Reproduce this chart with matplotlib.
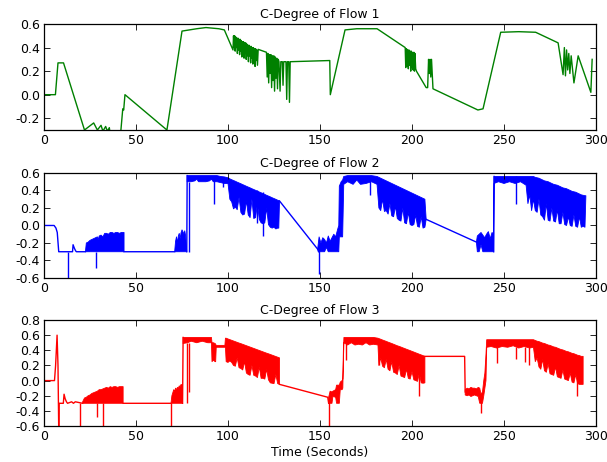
import numpy as np
import matplotlib
matplotlib.use('Agg')
import matplotlib.pyplot as plt

nan = np.nan

# ---- flow 1 : single trace ----
t1 = [0, 6.2, 7.6, 10.6, 22, 27, 29, 31, 32, 33.5, 34.5, 35.5, 36.5, 38, 41.8, 42.8, 43.3, 44,
      66.8, 75, 83, 88, 95, 98, 102.7,
      103.0, 103.3, 103.6, 103.9, 104.2, 104.5, 104.8, 105.1, 105.4, 105.7, 106.0, 106.3, 106.6,
      106.9, 107.2, 107.5, 107.8, 108.1, 108.4, 108.7, 109.0, 109.3, 109.6, 109.9, 110.2, 110.5,
      110.8, 111.1, 111.4, 111.7, 112.0, 112.3, 112.6, 112.9, 113.2, 113.5, 113.8, 114.1, 114.4,
      114.7, 115.0, 115.3, 115.6, 116.0, 116.4, 120.9,
      121.3, 121.7, 122.1, 122.5, 122.9, 123.3, 123.7, 124.1, 124.5, 124.9, 125.3, 125.7, 126.1,
      126.5, 126.9, 127.3, 127.7, 128.3, 128.7, 129.5, 129.9, 130.3, 131.5, 131.9, 132.3, 133.0,
      133.4, 133.8, 155.3, 155.6, 163.6, 170, 181, 196.3,
      196.6, 197.0, 197.3, 197.6, 198.0, 198.3, 198.6, 199.0, 199.3, 199.6, 200.0, 200.3, 200.6,
      201.0, 201.3, 201.6, 202.0, 202.4, 207.7, 208.5, 209.0, 209.4, 209.8, 210.2, 210.6, 211.4,
      235.8, 238.6, 248.2, 258, 267.2, 279.4, 282.1, 282.8, 283.4, 284.0, 284.6, 285.2, 285.8,
      286.5, 288.0, 290.3, 297.2, 297.9]
c1 = [0, 0, 0.27, 0.27, -0.3, -0.24, -0.3, -0.26, -0.31, -0.27, -0.31, -0.28, -0.4, -0.45, -0.3, -0.12, -0.13, 0.0,
      -0.3, 0.54, 0.56, 0.57, 0.56, 0.55, 0.38,
      0.50, 0.40, 0.50, 0.37, 0.49, 0.40, 0.48, 0.35, 0.48, 0.38, 0.47, 0.34, 0.47,
      0.37, 0.46, 0.32, 0.45, 0.36, 0.45, 0.31, 0.44, 0.35, 0.44, 0.30, 0.43, 0.33,
      0.42, 0.28, 0.42, 0.33, 0.41, 0.27, 0.41, 0.31, 0.40, 0.26, 0.40, 0.30, 0.39,
      0.24, 0.39, 0.29, 0.38, 0.25, 0.385, 0.36,
      0.15, 0.35, 0.10, 0.34, 0.18, 0.34, 0.06, 0.33, 0.12, 0.33, 0.03, 0.32, 0.14,
      0.31, 0.05, 0.30, 0.28, 0.03, 0.28, 0.28, 0.08, 0.28, 0.28, -0.04, 0.28, 0.28,
      -0.065, 0.28, 0.29, 0.0, 0.55, 0.56, 0.56, 0.40,
      0.23, 0.39, 0.24, 0.38, 0.22, 0.38, 0.25, 0.37, 0.20, 0.37, 0.23, 0.36, 0.21,
      0.36, 0.20, 0.35, 0.22, 0.20, 0.06, 0.06, 0.30, 0.18, 0.30, 0.15, 0.30, 0.05,
      -0.13, -0.12, 0.53, 0.535, 0.53, 0.44, 0.17, 0.40, 0.16, 0.38, 0.21, 0.35, 0.18,
      0.33, 0.10, 0.33, 0.02, 0.30]

# ---- flow 2 : trace pieces between the dense bands, the bands, single spikes ----
t2 = [0, 5.5, 6.5, 7.2, 8.0, 15.5, 15.8, 16.5, 17.2, 17.6, 22.5, nan,
      43.5, 71, nan, 77.6, 77.8, nan, 128, 148.7, 149.2, nan, 207.7, 235, nan, 244.4, 244.6, nan]
c2 = [0, 0, -0.03, -0.08, -0.3, -0.3, -0.22, -0.26, -0.29, -0.3, -0.3, nan,
      -0.3, -0.3, nan, -0.3, 0.57, nan, 0.28, -0.27, -0.3, nan, 0.07, -0.19, nan, -0.3, 0.56, nan]

band2_t = [22.5, 23, 24, 25, 26, 27, 28, 29, 29.5, 30, 31, 32, 33, 34, 35, 36, 37, 38, 39, 40, 41, 42, 43, 43.5, nan,
           71, 71.5, 72, 72.5, 73, 73.5, 74, 74.5, 75, 75.5, 76, 76.5, 77, 77.6, nan,
           77.8, 80, 82, 83, 84, 86, 88, 90, 91, 92, 94, 96, 98, 100, 101, 102, 103, 104, 105, 106, 107,
           108, 109, 110, 111, 112, 113, 114, 115, 116, 117, 118, 119, 120, 121, 122, 123, 124, 125,
           126, 127, 127.6, 128, nan,
           148.7, 149.5, 150.5, 151.5, 152.5, 153.5, 154.5, 155.5, 156.5, 157.5, 158.5, 159.5, 160.2,
           160.5, 161.5, 162.3, 162.9, 165, 168, 170, 172, 175, 178, 181,
           182, 183, 184, 185, 186, 187, 188, 189, 190, 191, 192, 193, 194, 195, 196, 197, 198, 199,
           200, 201, 202, 203, 204, 205, 206, 207, 207.7, nan,
           235, 235.5, 236.5, 237.5, 238.5, 239.5, 240.5, 241.5, 242.5, 243.5, 244.3, 244.6,
           247, 250, 253, 256, 259, 262, 263, 264, 265, 266, 267, 268, 269, 270, 271, 272, 273, 274,
           275, 276, 277, 278, 279, 280, 281, 282, 283, 284, 285, 286, 287, 288, 289, 290, 291, 292,
           293, 294, 294.5]
band2_hi = [-0.3, -0.2, -0.19, -0.17, -0.16, -0.15, -0.14, -0.13, -0.16, -0.12, -0.11, -0.13, -0.09, -0.09,
            -0.1, -0.08, -0.08, -0.09, -0.08, -0.08, -0.09, -0.08, -0.08, -0.08, nan,
            -0.3, -0.18, -0.13, -0.2, -0.12, -0.09, -0.15, -0.08, -0.05, -0.07, -0.1, -0.06, -0.12, -0.3, nan,
            0.57, 0.57, 0.57, 0.57, 0.57, 0.57, 0.57, 0.57, 0.57, 0.57, 0.57, 0.56, 0.555, 0.545, 0.533,
            0.523, 0.514, 0.505, 0.495, 0.486, 0.477, 0.467, 0.458, 0.448, 0.439, 0.430, 0.420, 0.411,
            0.402, 0.392, 0.383, 0.374, 0.364, 0.355, 0.345, 0.336, 0.327, 0.317, 0.308, 0.299, 0.289,
            0.284, 0.28, nan,
            -0.27, -0.13, -0.2, -0.14, -0.16, -0.2, -0.12, -0.18, -0.14, -0.1, -0.13, -0.05, 0.0,
            0.45, 0.5, 0.52, 0.56, 0.57, 0.57, 0.57, 0.57, 0.57, 0.57, 0.56,
            0.55, 0.54, 0.53, 0.52, 0.51, 0.50, 0.49, 0.48, 0.47, 0.46, 0.45, 0.44, 0.43, 0.42, 0.41,
            0.40, 0.39, 0.38, 0.37, 0.36, 0.35, 0.34, 0.33, 0.32, 0.31, 0.30, 0.07, nan,
            -0.19, -0.12, -0.1, -0.08, -0.11, -0.14, -0.1, -0.07, -0.15, -0.08, -0.1, 0.56,
            0.56, 0.56, 0.56, 0.56, 0.56, 0.56, 0.56, 0.56, 0.56, 0.56, 0.55, 0.545, 0.54, 0.53, 0.52,
            0.51, 0.505, 0.50, 0.49, 0.48, 0.47, 0.465, 0.46, 0.45, 0.44, 0.43, 0.425, 0.42, 0.41,
            0.40, 0.39, 0.385, 0.38, 0.37, 0.36, 0.35, 0.345, 0.34, 0.34]
band2_lo = [-0.3, -0.3, -0.3, -0.3, -0.3, -0.3, -0.3, -0.3, -0.3, -0.3, -0.3, -0.3, -0.3, -0.3,
            -0.3, -0.3, -0.3, -0.3, -0.3, -0.3, -0.3, -0.3, -0.3, -0.3, nan,
            -0.3, -0.3, -0.3, -0.3, -0.3, -0.3, -0.3, -0.3, -0.3, -0.3, -0.3, -0.3, -0.3, -0.3, nan,
            0.50, 0.50, 0.51, 0.53, 0.50, 0.50, 0.50, 0.51, 0.53, 0.50, 0.50, 0.49, 0.48, 0.48, 0.30,
            0.27, 0.19, 0.21, 0.18, 0.32, 0.15, 0.12, 0.13, 0.28, 0.12, 0.09, 0.30, 0.08, 0.09, 0.25,
            0.07, 0.03, 0.02, 0.03, 0.20, 0.01, -0.02, -0.03, -0.02, -0.04, -0.03, -0.03, 0.28, nan,
            -0.27, -0.3, -0.3, -0.3, -0.3, -0.25, -0.3, -0.3, -0.3, -0.3, -0.3, -0.3, -0.3,
            -0.13, -0.13, -0.13, 0.47, 0.50, 0.47, 0.52, 0.47, 0.48, 0.50, 0.47,
            0.20, 0.17, 0.30, 0.16, 0.17, 0.13, 0.25, 0.11, 0.10, 0.22, 0.08, 0.06, 0.05, 0.20, 0.03,
            0.02, 0.15, 0.01, 0.0, 0.01, 0.12, -0.01, -0.02, 0.10, -0.03, -0.02, 0.07, nan,
            -0.19, -0.3, -0.3, -0.22, -0.3, -0.3, -0.3, -0.3, -0.3, -0.3, -0.3, 0.48,
            0.50, 0.48, 0.50, 0.48, 0.50, 0.46, 0.25, 0.35, 0.17, 0.30, 0.17, 0.15, 0.30, 0.12, 0.10,
            0.06, 0.25, 0.06, 0.05, 0.20, 0.05, 0.04, 0.18, 0.02, 0.02, 0.15, 0.01, 0.0, 0.10, 0.0,
            -0.01, 0.12, -0.01, -0.02, 0.10, -0.02, -0.01, -0.02, 0.34]

spike2_t = [13.2, 28.4, 78.6, 92.6, 97.5, 116, 119, 149.6, 176.9, 256.7]
spike2_lo = [-0.62, -0.49, -0.3, 0.25, 0.44, 0.03, -0.12, -0.55, 0.35, 0.25]
spike2_hi = [-0.3, -0.3, 0.5, 0.55, 0.55, 0.4, 0.38, -0.27, 0.56, 0.56]

# ---- flow 3 ----
t3 = [0, 5.7, 6.3, 7.1, 7.6, 8.0, 8.2, 10.5, 10.9, 11.5, 12.2, 12.8, 15, 16, 17, 19, 21, nan,
      43, 69, nan, 75.3, 75.6, nan, 128, 154.2, 154.7, nan, 207, 228.6, 228.9, nan]
c3 = [0, 0, 0.2, 0.6, 0.2, -0.65, -0.3, -0.3, -0.18, -0.24, -0.28, -0.3, -0.28, -0.3, -0.28, -0.29,
      -0.3, nan, -0.3, -0.3, nan, -0.3, 0.57, nan, -0.05, -0.22, -0.3, nan, 0.32, 0.32, -0.15, nan]

band3_t = [21, 22, 23, 24, 25, 26, 27, 28, 29, 30, 31, 32, 33, 34, 35, 36, 37, 38, 39, 40, 41, 42, 43, nan,
           69, 69.5, 70, 70.5, 71, 71.5, 72, 72.5, 73, 73.5, 74, 74.5, 75, 75.3, nan,
           75.6, 78, 80, 83, 86, 89, 91, 91.3, 92, 93, 93.3, 93.6, 96, 98.3, 98.6, 99, 100, 101, 102,
           103, 104, 105, 106, 107, 108, 109, 110, 111, 112, 113, 114, 115, 116, 117, 118, 119, 120,
           121, 122, 123, 124, 125, 126, 127, 128, nan,
           154.7, 155.5, 156.5, 157.0, 158.5, 159.0, 160.5, 161, 162, 162.4, 162.7, 163,
           165, 167, 169, 171, 173, 175, 177, 179, 181.5,
           182, 183, 184, 185, 186, 187, 188, 189, 190, 191, 192, 193, 194, 195, 196, 197, 198, 199,
           200, 201, 202, 203, 204, 205, 206, 207, nan,
           228.9, 230, 231, 232, 233, 234, 235, 236, 236.8, 237.5, 238.3, 239, 239.6, 240.2, 240.6,
           243, 246, 249, 252, 255, 258, 261, 264, 266, 267, 268, 269, 270, 271, 272, 273, 274, 275,
           276, 277, 278, 279, 280, 281, 282, 283, 284, 285, 286, 287, 288, 289, 290, 291, 292, 293]
band3_hi = [-0.28, -0.23, -0.22, -0.2, -0.19, -0.17, -0.16, -0.15, -0.14, -0.12, -0.12, -0.11, -0.1,
            -0.09, -0.1, -0.08, -0.09, -0.08, -0.08, -0.09, -0.08, -0.08, -0.08, nan,
            -0.3, -0.2, -0.16, -0.12, -0.14, -0.1, -0.12, -0.09, -0.1, -0.07, -0.08, -0.05, -0.06, -0.05, nan,
            0.57, 0.57, 0.57, 0.57, 0.57, 0.57, 0.57, 0.50, 0.50, 0.49, 0.48, 0.465, 0.465, 0.465, 0.56,
            0.56, 0.55, 0.541, 0.532, 0.523, 0.514, 0.505, 0.496, 0.488, 0.479, 0.470, 0.461, 0.452,
            0.443, 0.434, 0.425, 0.416, 0.407, 0.398, 0.389, 0.380, 0.371, 0.362, 0.354, 0.345, 0.336,
            0.327, 0.318, 0.309, 0.30, nan,
            -0.22, -0.14, -0.15, -0.14, -0.12, -0.06, -0.06, -0.02, 0.0, 0.02, 0.4, 0.57,
            0.57, 0.57, 0.57, 0.57, 0.57, 0.57, 0.57, 0.57, 0.56,
            0.555, 0.546, 0.536, 0.527, 0.518, 0.508, 0.499, 0.49, 0.48, 0.47, 0.46, 0.452, 0.443,
            0.433, 0.424, 0.414, 0.405, 0.396, 0.386, 0.377, 0.367, 0.358, 0.348, 0.339, 0.33, 0.32, nan,
            -0.12, -0.1, -0.11, -0.09, -0.1, -0.1, -0.11, -0.09, -0.1, -0.18, -0.15, 0.0, 0.1, 0.35, 0.54,
            0.54, 0.54, 0.54, 0.54, 0.54, 0.54, 0.54, 0.54, 0.54, 0.53, 0.52, 0.515, 0.505, 0.495, 0.49,
            0.48, 0.47, 0.465, 0.455, 0.445, 0.44, 0.43, 0.42, 0.41, 0.405, 0.395, 0.385, 0.38, 0.37,
            0.36, 0.355, 0.345, 0.335, 0.33, 0.32, 0.32]
band3_lo = [-0.3, -0.3, -0.3, -0.3, -0.3, -0.3, -0.3, -0.3, -0.3, -0.3, -0.3, -0.3, -0.3,
            -0.3, -0.3, -0.3, -0.3, -0.3, -0.3, -0.3, -0.3, -0.3, -0.3, nan,
            -0.3, -0.3, -0.3, -0.3, -0.3, -0.3, -0.3, -0.3, -0.3, -0.3, -0.3, -0.3, -0.3, -0.3, nan,
            0.49, 0.50, 0.52, 0.50, 0.52, 0.50, 0.50, 0.25, 0.27, 0.25, 0.25, 0.44, 0.44, 0.44, 0.44,
            0.25, 0.24, 0.26, 0.24, 0.20, 0.19, 0.30, 0.17, 0.16, 0.14, 0.25, 0.10, 0.08, 0.07, 0.20,
            0.07, 0.06, 0.04, 0.18, 0.03, 0.03, 0.02, 0.15, 0.01, -0.03, -0.035, -0.04, 0.08, -0.04,
            -0.05, nan,
            -0.3, -0.3, -0.3, -0.21, -0.22, -0.3, -0.3, -0.12, -0.12, -0.1, 0.25, 0.5,
            0.47, 0.50, 0.47, 0.48, 0.47, 0.50, 0.47, 0.48, 0.47,
            0.20, 0.30, 0.19, 0.17, 0.28, 0.15, 0.13, 0.25, 0.11, 0.10, 0.08, 0.20, 0.06, 0.05, 0.04,
            0.15, 0.03, 0.02, 0.12, 0.01, 0.0, -0.01, 0.10, -0.03, -0.035, -0.03, nan,
            -0.19, -0.2, -0.19, -0.21, -0.2, -0.19, -0.2, -0.21, -0.3, -0.3, -0.3, -0.2, -0.1, 0.0, 0.44,
            0.45, 0.43, 0.45, 0.44, 0.46, 0.43, 0.45, 0.43, 0.44, 0.25, 0.30, 0.18, 0.15, 0.28, 0.13,
            0.11, 0.22, 0.09, 0.08, 0.07, 0.18, 0.05, 0.04, 0.03, 0.14, 0.02, 0.01, 0.0, 0.10, -0.02,
            -0.03, 0.08, -0.04, -0.05, -0.05, -0.05]

spike3_t = [19.6, 29.0, 32.0, 69.2, 77.5, 79.0, 154.7, 164.2, 182.0, 203.7, 237.7, 246.2, 256.7, 261.5, 263.5, 289.8]
spike3_lo = [-0.62, -0.48, -0.62, -0.62, -0.3, -0.15, -0.62, 0.27, 0.20, -0.20, -0.43, 0.23, 0.29, 0.25, 0.20, -0.20]
spike3_hi = [-0.3, -0.3, -0.3, -0.3, 0.5, 0.5, -0.22, 0.5, 0.5, 0.2, -0.2, 0.45, 0.45, 0.45, 0.45, 0.2]

fs = 9
plt.rcParams['font.family'] = 'DejaVu Sans'
plt.rcParams['font.size'] = fs

fig = plt.figure(figsize=(6.07, 4.62), dpi=100)
ax1 = fig.add_axes([0.0725, 0.7186, 0.9094, 0.2294])
ax2 = fig.add_axes([0.0725, 0.3983, 0.9094, 0.2273])
ax3 = fig.add_axes([0.0725, 0.0779, 0.9094, 0.2294])

ax1.plot(t1, c1, color='#008000', lw=1)

ax2.plot(t2, c2, color='#0000ff', lw=1)
ax2.fill_between(band2_t, band2_lo, band2_hi, color='#0000ff', lw=0.6)
ax2.vlines(spike2_t, spike2_lo, spike2_hi, color='#0000ff', lw=1)

ax3.plot(t3, c3, color='#ff0000', lw=1)
ax3.fill_between(band3_t, band3_lo, band3_hi, color='#ff0000', lw=0.6)
ax3.vlines(spike3_t, spike3_lo, spike3_hi, color='#ff0000', lw=1)

ax1.set_ylim(-0.3, 0.6)
ax1.set_yticks([-0.2, 0.0, 0.2, 0.4, 0.6])
ax2.set_ylim(-0.6, 0.6)
ax2.set_yticks([-0.6, -0.4, -0.2, 0.0, 0.2, 0.4, 0.6])
ax3.set_ylim(-0.6, 0.8)
ax3.set_yticks([-0.6, -0.4, -0.2, 0.0, 0.2, 0.4, 0.6, 0.8])

for i, ax in enumerate([ax1, ax2, ax3]):
    ax.set_xlim(0, 300)
    ax.set_xticks([0, 50, 100, 150, 200, 250, 300])
    ax.yaxis.set_major_formatter(matplotlib.ticker.FormatStrFormatter('%.1f'))
    ax.tick_params(direction='in', top=True, right=True, length=4, width=0.6,
                   labelsize=fs, pad=3)
    for s in ax.spines.values():
        s.set_linewidth(0.9)
    ax.set_title('C-Degree of Flow %d' % (i + 1), fontsize=fs, pad=4)

ax3.set_xlabel('Time (Seconds)', fontsize=fs, labelpad=2)

fig.savefig('out.png', dpi=100)
